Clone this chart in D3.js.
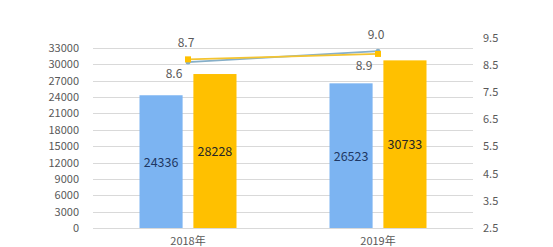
<!DOCTYPE html>
<html>
<head>
<meta charset="utf-8">
<script src="https://cdn.jsdelivr.net/npm/d3@7"></script>
<style>
  body { margin: 0; background: #fff; }
  svg text { font-family: "Noto Sans CJK SC", "Open Sans", sans-serif; }
</style>
</head>
<body>
<div id="chart"></div>
<script>
const categories = ["2018年", "2019年"];
const barSeriesA = [24336, 26523];   // blue bars
const barSeriesB = [28228, 30733];   // orange bars
const lineSeriesA = [8.6, 9.0];      // blue-grey line
const lineSeriesB = [8.7, 8.9];      // orange line
const leftTicks = d3.range(0, 33001, 3000);
const rightTicks = [2.5, 3.5, 4.5, 5.5, 6.5, 7.5, 8.5, 9.5];

const W = 553, H = 247;
const plot = { left: 93, right: 473, top: 48, bottom: 228 };

const svg = d3.select("#chart").append("svg")
  .attr("width", W)
  .attr("height", H);

const x = d3.scaleBand()
  .domain(categories)
  .range([plot.left, plot.right]);

const inner = d3.scaleBand()
  .domain(["a", "b"])
  .range([46.5, 143.5])
  .paddingInner(0.2);

const yL = d3.scaleLinear().domain([0, 33000]).range([plot.bottom, plot.top]);
const yR = d3.scaleLinear().domain([2.5, 9.5]).range([plot.bottom, 37.6]);

// gridlines
svg.append("g")
  .selectAll("line")
  .data(leftTicks)
  .join("line")
  .attr("x1", plot.left)
  .attr("x2", plot.right)
  .attr("y1", d => Math.round(yL(d)) + 0.5)
  .attr("y2", d => Math.round(yL(d)) + 0.5)
  .attr("stroke", "#d9d9d9")
  .attr("stroke-width", 1);

// left axis labels
const leftAxis = svg.append("g")
  .attr("transform", `translate(${plot.left - 6},0)`)
  .call(d3.axisLeft(yL).tickValues(leftTicks).tickFormat(d3.format("d")).tickSize(0).tickPadding(8));
leftAxis.select(".domain").remove();
leftAxis.selectAll("text").attr("font-size", 11).attr("fill", "#595959");

// right axis labels
const rightAxis = svg.append("g")
  .attr("transform", `translate(${plot.right + 2},0)`)
  .call(d3.axisRight(yR).tickValues(rightTicks).tickFormat(d3.format(".1f")).tickSize(0).tickPadding(8));
rightAxis.select(".domain").remove();
rightAxis.selectAll("text").attr("font-size", 11).attr("fill", "#595959");

// bars
const groups = svg.append("g")
  .selectAll("g")
  .data(categories)
  .join("g")
  .attr("transform", d => `translate(${x(d)},0)`);

groups.append("rect")
  .attr("x", inner("a"))
  .attr("width", inner.bandwidth())
  .attr("y", (d, i) => yL(barSeriesA[i]))
  .attr("height", (d, i) => plot.bottom - yL(barSeriesA[i]))
  .attr("fill", "#7cb4f2");

groups.append("rect")
  .attr("x", inner("b"))
  .attr("width", inner.bandwidth())
  .attr("y", (d, i) => yL(barSeriesB[i]))
  .attr("height", (d, i) => plot.bottom - yL(barSeriesB[i]))
  .attr("fill", "#ffc000");

// bar value labels
groups.append("text")
  .attr("x", inner("a") + inner.bandwidth() / 2)
  .attr("y", (d, i) => (yL(barSeriesA[i]) + plot.bottom) / 2 + 5)
  .attr("text-anchor", "middle")
  .attr("font-size", 12.5)
  .attr("fill", "#1f3864")
  .text((d, i) => barSeriesA[i]);

groups.append("text")
  .attr("x", inner("b") + inner.bandwidth() / 2)
  .attr("y", (d, i) => (yL(barSeriesB[i]) + plot.bottom) / 2 + 5)
  .attr("text-anchor", "middle")
  .attr("font-size", 12.5)
  .attr("fill", "#262626")
  .text((d, i) => barSeriesB[i]);

// lines
const cx = d => x(d) + x.bandwidth() / 2;
const lineA = d3.line().x((d, i) => cx(categories[i])).y(d => yR(d));

svg.append("path")
  .datum(lineSeriesA)
  .attr("d", lineA)
  .attr("fill", "none")
  .attr("stroke", "#86afc9")
  .attr("stroke-width", 1.8);

svg.append("path")
  .datum(lineSeriesB)
  .attr("d", lineA)
  .attr("fill", "none")
  .attr("stroke", "#f4c430")
  .attr("stroke-width", 1.8);

svg.append("g")
  .selectAll("circle")
  .data(lineSeriesA)
  .join("circle")
  .attr("cx", (d, i) => cx(categories[i]))
  .attr("cy", d => yR(d))
  .attr("r", 2.5)
  .attr("fill", "#86afc9");

svg.append("g")
  .selectAll("rect")
  .data(lineSeriesB)
  .join("rect")
  .attr("x", (d, i) => cx(categories[i]) - 3)
  .attr("y", d => yR(d) - 3)
  .attr("width", 6)
  .attr("height", 6)
  .attr("fill", "#ffc000");

// line value labels: the higher point labelled above, lower one below-left
const labels = [];
categories.forEach((c, i) => {
  const a = lineSeriesA[i], b = lineSeriesB[i];
  const hi = Math.max(a, b), lo = Math.min(a, b);
  labels.push({ x: cx(c) - 2, y: yR(hi) - 12, t: hi.toFixed(1) });
  labels.push({ x: cx(c) - 14, y: yR(lo) + 16, t: lo.toFixed(1) });
});

svg.append("g")
  .selectAll("text")
  .data(labels)
  .join("text")
  .attr("x", d => d.x)
  .attr("y", d => d.y)
  .attr("text-anchor", "middle")
  .attr("font-size", 12)
  .attr("fill", "#595959")
  .text(d => d.t);

// category labels
svg.append("g")
  .selectAll("text")
  .data(categories)
  .join("text")
  .attr("x", d => cx(d))
  .attr("y", 245)
  .attr("text-anchor", "middle")
  .attr("font-size", 11)
  .attr("fill", "#595959")
  .text(d => d);
</script>
</body>
</html>
